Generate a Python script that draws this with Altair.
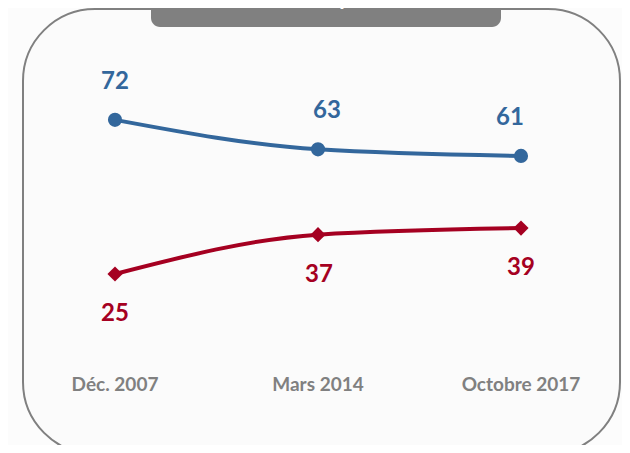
import altair as alt
import pandas as pd

periods = ["Déc. 2007", "Mars 2014", "Octobre 2017"]
blue_values = [72, 63, 61]
red_values = [25, 37, 39]
title_text = "Évolution depuis 2007"

BLUE = "#33679c"
RED = "#a50021"
GRAY = "#808080"
FONT = "Lato"

blue_df = pd.DataFrame({"period": periods, "value": blue_values})
red_df = pd.DataFrame({"period": periods, "value": red_values})
lab_df = pd.DataFrame({"period": periods})

xenc = alt.X("period:N", sort=periods,
             scale=alt.Scale(type="point", domain=periods, range=[107, 513], padding=0),
             axis=None)
yenc = alt.Y("value:Q", scale=alt.Scale(domain=[0, 100], range=[348, 20]), axis=None)

one = alt.Data(values=[{"a": 1}])

border = alt.Chart(one).mark_rect(
    cornerRadius=72, fill="#fbfbfb", stroke=GRAY, strokeWidth=2
).encode(x=alt.value(15), x2=alt.value(612), y=alt.value(1), y2=alt.value(446))

tab = alt.Chart(one).mark_rect(cornerRadius=9, fill=GRAY).encode(
    x=alt.value(143), x2=alt.value(493), y=alt.value(-20), y2=alt.value(19))

tab_text = alt.Chart(one).mark_text(
    text=title_text, font=FONT, fontSize=22, fontWeight="bold", color="white",
    align="center", baseline="alphabetic"
).encode(x=alt.value(318), y=alt.value(-3))


def series(df, color, shape, size, dy, dxs):
    line = alt.Chart(df).mark_line(interpolate="monotone", strokeWidth=4, color=color).encode(x=xenc, y=yenc)
    pts = alt.Chart(df).mark_point(shape=shape, filled=True, size=size, color=color, opacity=1).encode(x=xenc, y=yenc)
    layers = [line, pts]
    for p, dx in zip(periods, dxs):
        layers.append(
            alt.Chart(df).transform_filter(alt.datum.period == p).mark_text(
                font=FONT, fontSize=24, fontWeight="bold", color=color,
                baseline="middle", dy=dy, dx=dx
            ).encode(x=xenc, y=yenc, text="value:Q")
        )
    return alt.layer(*layers)


xlabels = alt.Chart(lab_df).mark_text(
    font=FONT, fontSize=19, fontWeight="bold", color=GRAY, baseline="middle"
).encode(x=xenc, y=alt.value(377), text="period:N")

chart = alt.layer(
    border, tab, tab_text,
    series(blue_df, BLUE, "circle", 200, -38, [0, 9, -11]),
    series(red_df, RED, "diamond", 230, 40, [0, 1, 0]),
    xlabels,
).properties(
    width=614, height=437, padding=0, autosize=alt.AutoSizeParams(type="none"),
    background="#fcfcfc"
).configure_view(stroke=None)

chart.save("out.html", embed_options={"renderer": "svg", "actions": False})
